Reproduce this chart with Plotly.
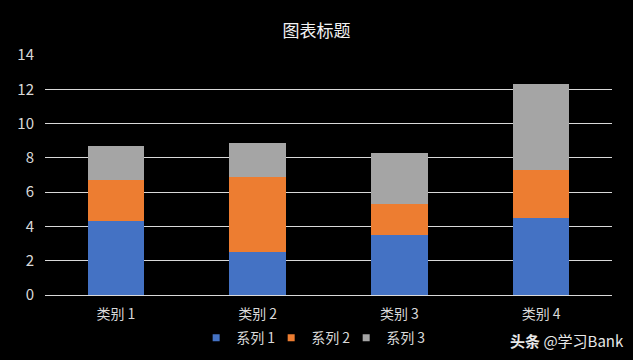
import plotly.graph_objects as go

categories = ["类别 1", "类别 2", "类别 3", "类别 4"]
series_names = ["系列 1", "系列 2", "系列 3"]
series1 = [4.3, 2.5, 3.5, 4.5]
series2 = [2.4, 4.4, 1.8, 2.8]
series3 = [2.0, 2.0, 3.0, 5.0]
colors = ["#4472C4", "#ED7D31", "#A5A5A5"]

font_family = "Noto Sans CJK SC, Noto Sans, sans-serif"
legend_ids = ["legend", "legend2", "legend3"]
legend_x = [0.2666, 0.3989, 0.5312]

fig = go.Figure()
for name, vals, c in zip(series_names, [series1, series2, series3], colors):
    fig.add_trace(go.Bar(x=categories, y=vals, name=name, showlegend=False,
                         marker=dict(color=c, line=dict(width=0))))
# legend entries with small square markers, one legend each for compact spacing
for name, c, lid in zip(series_names, colors, legend_ids):
    fig.add_trace(go.Scatter(x=[None], y=[None], mode="markers", name=name, legend=lid,
                             marker=dict(symbol="square", size=7, color=c)))

legend_style = dict(orientation="h", xanchor="left", y=-0.18, yanchor="middle",
                    font=dict(size=14, color="#d9d9d9"), itemwidth=30,
                    bgcolor="rgba(0,0,0,0)")

fig.update_layout(
    barmode="stack",
    bargap=0.6,
    width=633, height=360,
    paper_bgcolor="black", plot_bgcolor="black",
    margin=dict(l=45, r=21, t=55, b=65, autoexpand=False),
    font=dict(family=font_family, color="#d9d9d9", size=14),
    title=dict(text="图表标题", x=0.5, xanchor="center", y=0.915, yanchor="middle",
               font=dict(size=17, color="#f2f2f2", family=font_family)),
    legend=dict(x=legend_x[0], **legend_style),
    legend2=dict(x=legend_x[1], **legend_style),
    legend3=dict(x=legend_x[2], **legend_style),
    showlegend=True,
)
fig.update_yaxes(range=[0, 14.01], tickvals=[0, 2, 4, 6, 8, 10, 12, 14], showgrid=True,
                 gridcolor="#d9d9d9", gridwidth=1,
                 zeroline=True, zerolinecolor="#d9d9d9", zerolinewidth=1,
                 tickfont=dict(size=15),
                 ticks="", ticklabelstandoff=10, showline=False, automargin=False)
fig.update_xaxes(showgrid=False, ticks="", showline=False, ticklabelstandoff=9, automargin=False)

fig.add_annotation(text="<b>头条</b> @学习Bank", xref="paper", yref="paper", x=1.025, y=-0.19,
                   xanchor="right", yanchor="middle", showarrow=False,
                   font=dict(size=15, color="#e8e8e8", family=font_family))

fig.write_html("out.html", config={"displayModeBar": False},
               post_script="document.body.style.margin='0';document.body.style.background='black';")
